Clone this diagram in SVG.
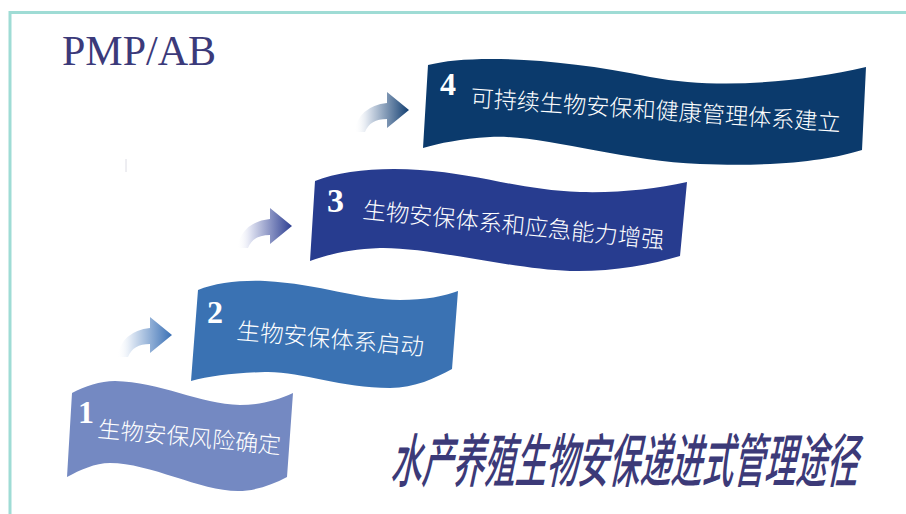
<svg xmlns="http://www.w3.org/2000/svg" width="906" height="514" viewBox="0 0 906 514">
  <defs>
    <linearGradient id="g1" x1="0" y1="0" x2="1" y2="0">
      <stop offset="0" stop-color="#ffffff" stop-opacity="0"/>
      <stop offset="0.25" stop-color="#dfe8f4"/>
      <stop offset="1" stop-color="#3a70b5"/>
    </linearGradient>
    <linearGradient id="g2" x1="0" y1="0" x2="1" y2="0">
      <stop offset="0" stop-color="#ffffff" stop-opacity="0"/>
      <stop offset="0.25" stop-color="#dde0f0"/>
      <stop offset="1" stop-color="#2e3f92"/>
    </linearGradient>
    <linearGradient id="g3" x1="0" y1="0" x2="1" y2="0">
      <stop offset="0" stop-color="#ffffff" stop-opacity="0"/>
      <stop offset="0.25" stop-color="#dbe2ec"/>
      <stop offset="1" stop-color="#133f72"/>
    </linearGradient>
    <path id="arrow" d="M-33,22 Q-28,-4 0,-7 L0,-18 L22,0 L0,18 L0,9 Q-17,9 -22,22 Z"/>
  </defs>
  <style>
    .lbl { font-family: "Noto Sans CJK SC", "Noto Sans", sans-serif; font-weight: 300; fill: #ffffff; }
    .num { font-family: "Liberation Serif", "DejaVu Serif", serif; font-weight: bold; fill: #ffffff; }
  </style>
  <rect width="906" height="514" fill="#ffffff"/>
  <path d="M10,514 L10,12.5 L906,12.5" fill="none" stroke="#9fdcd5" stroke-width="3"/>
  <line x1="126" y1="159" x2="126" y2="172" stroke="#dcdce4" stroke-width="1"/>
  <text x="62" y="65" font-family="Liberation Serif, serif" font-size="42" fill="#3b3a7a">PMP/AB</text>

  <g id="connectors">
    <use href="#arrow" transform="translate(150,335)" fill="url(#g1)"/>
    <use href="#arrow" transform="translate(270,226)" fill="url(#g2)"/>
    <use href="#arrow" transform="translate(387,110)" fill="url(#g3)"/>
  </g>

  <g id="step1">
    <path d="M72,393 C85,386 100,381 115,381 C160,382 200,404 240,405 C260,405 278,400 293,393 L287,477 C272,485 255,491 238,491 C200,491 150,463 110,463 C95,463 80,470 67,477 Z" fill="#7489c2"/>
    <text class="num" x="78" y="423" font-size="32">1</text>
    <text class="lbl" font-size="23" transform="translate(97,437) rotate(5.3)">生物安保风险确定</text>
  </g>

  <g id="step2">
    <path d="M198,290 C215,283 240,280 265,281 C320,284 360,300 400,300 C425,300 445,296 458,291 L452,369 C435,378 415,388 390,388 C340,388 300,371 265,372 C235,373 210,376 191,381 Z" fill="#3a72b3"/>
    <text class="num" x="207" y="323" font-size="32">2</text>
    <text class="lbl" font-size="23.5" transform="translate(236,339) rotate(5)">生物安保体系启动</text>
  </g>

  <g id="step3">
    <path d="M315,181 C340,171 380,167 420,170 C480,174 520,190 580,192 C620,193 655,189 687,182 L680,256 C650,265 610,272 570,271 C510,269 430,247 380,248 C350,249 330,254 310,261 Z" fill="#273c8f"/>
    <text class="num" x="327" y="212" font-size="34">3</text>
    <text class="lbl" font-size="23.3" transform="translate(362,218) rotate(5.8)">生物安保体系和应急能力增强</text>
  </g>

  <g id="step4">
    <path d="M428,65 C470,54 560,58 650,77 C720,90 800,82 866,67 L862,150 C830,160 780,167 700,164 C620,161 540,134 490,137 C460,139 440,143 423,148 Z" fill="#0b3a6c"/>
    <text class="num" x="440" y="95" font-size="32">4</text>
    <text class="lbl" font-size="23.2" transform="translate(470,106) rotate(3.9)">可持续生物安保和健康管理体系建立</text>
  </g>

  <text font-family="Noto Sans CJK SC, sans-serif" font-weight="500" font-size="58" fill="#3c3a78" transform="translate(390,482) skewX(-12) scale(0.537,1)">水产养殖生物安保递进式管理途径</text>
</svg>
